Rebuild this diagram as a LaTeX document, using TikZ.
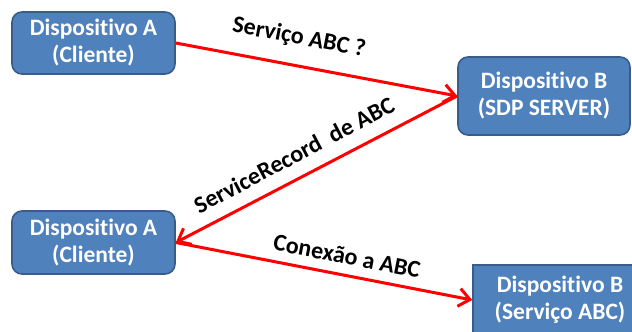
\documentclass[tikz,border=0pt]{standalone}
\usepackage{fontspec}
\setmainfont{Carlito}[Ligatures=NoCommon]
\usetikzlibrary{arrows.meta}
\definecolor{boxfill}{HTML}{4F81BD}
\definecolor{boxline}{HTML}{385D8A}
\tikzset{
  device/.style={draw=boxline, fill=boxfill, line width=1.6pt, rounded corners=10pt,
    text=white, font=\fontsize{23.5}{27}\selectfont\bfseries, align=center, inner sep=0pt},
  msg/.style={draw=red, line width=3pt, -{Straight Barb[length=11pt,width=18pt,line width=3pt]}},
  lbl/.style={font=\fontsize{24}{28}\selectfont\bfseries, inner sep=0pt}
}
\begin{document}
\begin{tikzpicture}[x=1pt,y=-1pt]
\useasboundingbox (0,0) rectangle (632,332);
\begin{scope}
\clip (0,0) rectangle (632,332);
% devices
\node[device, minimum width=163pt, minimum height=62pt] (a1) at (93.5,43) {Dispositivo A\\(Cliente)};
\node[device, minimum width=172pt, minimum height=78pt] (b1) at (544,96) {Dispositivo B\\(SDP SERVER)};
\node[device, minimum width=163pt, minimum height=63pt] (a2) at (93.5,242.5) {Dispositivo A\\(Cliente)};
\node[device, rounded corners=0pt, minimum width=174pt, minimum height=70pt] (b2) at (560,300) {Dispositivo B\\(Serviço ABC)};
% messages
\draw[msg] (a1.east) -- (b1.west);
\draw[msg] (b1.west) -- (a2.east);
\draw[msg] (a2.east) -- (b2.west);
\node[lbl, rotate=-10.8] (q1) at (299,38) {Serviço ABC ?};
\node[lbl, rotate=27.8] (q2) at (294,155) {ServiceRecord\ \ de ABC};
\node[lbl, rotate=-11] (q3) at (347,256) {Conexão a ABC};
\end{scope}
\end{tikzpicture}
\end{document}
